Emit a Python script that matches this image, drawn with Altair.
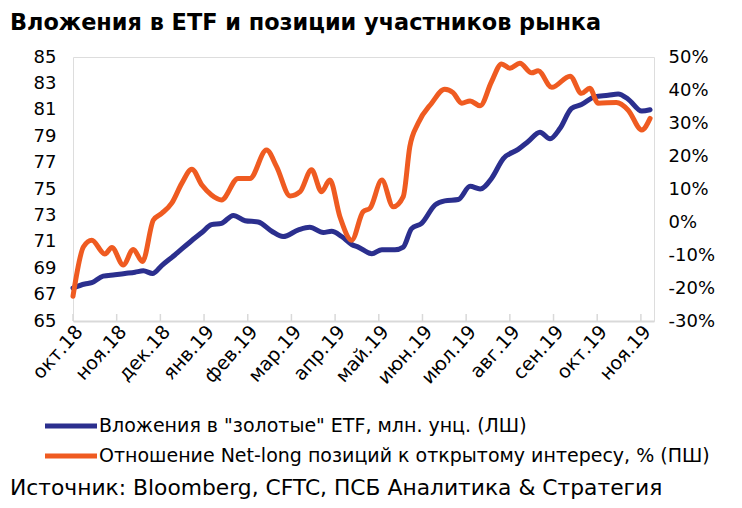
import json
import altair as alt
import pandas as pd

# ---- data (x = months since Oct-2018) ----
months = ["окт.18", "ноя.18", "дек.18", "янв.19", "фев.19", "мар.19", "апр.19",
          "май.19", "июн.19", "июл.19", "авг.19", "сен.19", "окт.19", "ноя.19"]

etf_x = [0.0, 0.27, 0.43, 0.69, 0.96, 1.19, 1.42, 1.61, 1.82, 2.03, 2.33, 2.72, 2.95,
         3.17, 3.40, 3.67, 3.94, 4.24, 4.55, 4.81, 5.16, 5.42, 5.73, 5.92, 6.15, 6.38,
         6.53, 6.84, 7.07, 7.37, 7.56, 7.75, 7.98, 8.29, 8.51, 8.82, 9.09, 9.32, 9.58,
         9.85, 10.19, 10.42, 10.69, 10.92, 11.15, 11.41, 11.64, 11.95, 12.25, 12.48,
         12.71, 13.02, 13.21]
etf_val = [67.5, 67.8, 67.9, 68.4, 68.5, 68.6, 68.7, 68.8, 68.6, 69.2, 70.0, 71.1, 71.7,
           72.3, 72.4, 73.0, 72.6, 72.5, 71.8, 71.4, 71.9, 72.1, 71.7, 71.8, 71.4, 70.8,
           70.6, 70.1, 70.4, 70.4, 70.6, 72.0, 72.4, 73.8, 74.1, 74.2, 75.2, 75.0, 75.8,
           77.3, 78.0, 78.6, 79.3, 78.8, 79.6, 81.1, 81.4, 82.0, 82.1, 82.2,
           81.8, 80.9, 81.0]

net_x = [0.0, 0.24, 0.43, 0.73, 0.89, 1.15, 1.38, 1.59, 1.84, 2.03, 2.26, 2.49, 2.72,
         2.95, 3.17, 3.40, 3.78, 4.05, 4.43, 4.66, 4.97, 5.20, 5.46, 5.69, 5.88, 6.11,
         6.38, 6.64, 6.80, 7.07, 7.33, 7.56, 7.71, 7.90, 8.21, 8.51, 8.70, 8.90, 9.09,
         9.32, 9.58, 9.81, 10.00, 10.23, 10.50, 10.65, 10.96, 11.38, 11.64, 11.83,
         12.02, 12.44, 12.71, 13.02, 13.21]
net_val = [-22.5, -7.5, -5.5, -9.7, -7.7, -13.0, -8.3, -12.0, 0.6, 2.6, 5.7, 11.7, 16.0,
           11.2, 8.2, 6.7, 13.2, 13.2, 21.8, 16.8, 7.9, 9.2, 15.8, 9.2, 12.7, 1.6,
           -5.5, 3.1, 4.2, 12.7, 4.6, 7.7, 22.8, 29.9, 36.0, 40.2, 39.2, 36.0, 36.7,
           35.2, 42.5, 47.9, 46.6, 48.1, 45.2, 45.8, 40.8, 44.2, 39.0, 40.5,
           36.0, 36.2, 33.9, 27.9, 31.4]

left_ticks = [65, 67, 69, 71, 73, 75, 77, 79, 81, 83, 85]
right_ticks = [-30, -20, -10, 0, 10, 20, 30, 40, 50]

title_text = "Вложения в ETF и позиции участников рынка"
legend_labels = ['Вложения в "золотые" ETF, млн. унц. (ЛШ)',
                 "Отношение Net-long позиций к открытому интересу, % (ПШ)"]
source_text = "Источник: Bloomberg, CFTC, ПСБ Аналитика & Стратегия"

BLUE = "#2b2f8e"
ORANGE = "#ef5b21"
W, H = 581, 264

etf_df = pd.DataFrame({"m": etf_x, "v": etf_val})
net_df = pd.DataFrame({"m": net_x, "v": net_val})
tick_df = pd.DataFrame({"m": list(range(len(months)))})
one = pd.DataFrame({"a": [0]})

label_expr = json.dumps(months, ensure_ascii=False) + "[datum.value]"

xscale = alt.Scale(domain=[0, 13.3], nice=False, zero=False)
x_axis = alt.Axis(values=list(range(len(months))), labelExpr=label_expr,
                  labelAngle=312, labelAlign="right", labelBaseline="middle",
                  labelFont="DejaVu Sans", labelFontSize=19, labelColor="#000",
                  labelPadding=7, labelOffset=6, labelOverlap=False, labelFlush=False,
                  ticks=False, domainColor="#d9d9d9", domainWidth=2, grid=False, title=None)
xenc = alt.X("m:Q", scale=xscale, axis=x_axis)

ax_common = dict(grid=False, domain=False, ticks=False, labelFont="DejaVu Sans",
                 labelFontSize=18, labelColor="#000", title=None)

etf_line = alt.Chart(etf_df).mark_line(
    color=BLUE, strokeWidth=5, interpolate="monotone", strokeCap="round"
).encode(
    x=xenc,
    y=alt.Y("v:Q", scale=alt.Scale(domain=[65, 85], nice=False, zero=False),
            axis=alt.Axis(orient="left", values=left_ticks, labelPadding=17, **ax_common)),
)

ticks = alt.Chart(tick_df).mark_rule(color="#d9d9d9", strokeWidth=1.5).encode(
    x=xenc,
    y=alt.value(H - 7), y2=alt.value(H),
)

left = alt.layer(ticks, etf_line)

net_line = alt.Chart(net_df).mark_line(
    color=ORANGE, strokeWidth=5, interpolate="monotone", strokeCap="round"
).encode(
    x=xenc,
    y=alt.Y("v:Q", scale=alt.Scale(domain=[-30, 50], nice=False, zero=False),
            axis=alt.Axis(orient="right", values=right_ticks, labelPadding=14,
                          labelExpr="datum.value + '%'", **ax_common)),
)

title = alt.Chart(one).mark_text(
    text=title_text, align="left", baseline="alphabetic", font="DejaVu Sans",
    fontWeight="bold", fontSize=22.4, color="#000"
).encode(x=alt.value(-63), y=alt.value(-27.5))

leg_rules = []
leg_texts = []
for i, (lab, col) in enumerate(zip(legend_labels, [BLUE, ORANGE])):
    yy = 369 + 30 * i
    leg_rules.append(alt.Chart(one).mark_rule(color=col, strokeWidth=5).encode(
        x=alt.value(-28), x2=alt.value(24), y=alt.value(yy)))
    leg_texts.append(alt.Chart(one).mark_text(
        text=lab, align="left", baseline="middle", font="DejaVu Sans",
        fontSize=19, color="#000").encode(x=alt.value(26), y=alt.value(yy)))

source = alt.Chart(one).mark_text(
    text=source_text, align="left", baseline="alphabetic", font="DejaVu Sans",
    fontSize=21.8, color="#000"
).encode(x=alt.value(-63), y=alt.value(438))

chart = alt.layer(
    left, net_line, title, source, *leg_rules, *leg_texts
).resolve_scale(y="independent").properties(
    width=W, height=H,
    autosize=alt.AutoSizeParams(type="none"),
    padding={"left": 65, "top": 49, "right": 80, "bottom": 179},
).configure_view(stroke=None).configure(background="white")

chart.save("out.html", embed_options={"renderer": "svg", "actions": False})
